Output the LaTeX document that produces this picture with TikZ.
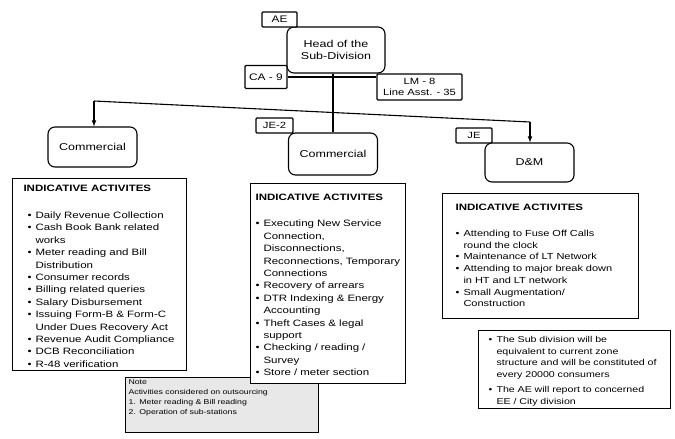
\documentclass[tikz,border=0pt]{standalone}
\usepackage{fontspec}
\setmainfont{Liberation Sans}[FakeStretch=1.25]
\usetikzlibrary{positioning}

% one bullet line of an activity list
\newcommand{\bitem}[1]{\par\hangindent=8pt\hangafter=1\noindent\makebox[8pt][l]{\textbullet}#1}

\begin{document}
\begin{tikzpicture}[x=1pt,y=-1pt,>=latex,line width=1.1pt,
  lbl/.style={draw,fill=white,inner sep=0pt,rounded corners=1pt,font=\fontsize{9.5}{10.5}\selectfont},
  unit/.style={draw,fill=white,inner sep=0pt,rounded corners=7pt,font=\fontsize{10}{11.5}\selectfont},
  actbox/.style={draw,fill=white,inner sep=0pt,anchor=north west},
  acthead/.style={inner sep=0pt,anchor=north west,font=\bfseries\fontsize{9.2}{11}\selectfont},
  acttext/.style={inner sep=0pt,anchor=north west,align=left,text width=#1},
  acttext/.default=160pt]
\useasboundingbox (0,0) rectangle (675,439);

% top of the sub-division
\node[unit,minimum width=98,minimum height=46,align=center] (head) at (336,50) {Head of the\\Sub-Division};
\node[lbl,minimum width=35,minimum height=15] (ae) at (279.5,19.5) {AE};
\node[lbl,minimum width=42,minimum height=23] (ca) at (266,77) {CA - 9};
\node[lbl,minimum width=85,minimum height=26,align=center,font=\fontsize{9}{10.5}\selectfont] (lm) at (419.5,87) {LM - 8\\Line Asst. - 35};
\draw (ca.east) -- (ca.east -| lm.west);

% the three wings
\node[unit,minimum width=89,minimum height=40] (comL) at (92.5,147) {Commercial};
\node[unit,minimum width=89,minimum height=42] (comM) at (333,154) {Commercial};
\node[unit,minimum width=89,minimum height=39] (dm) at (529.5,162.5) {D\&M};
\node[lbl,minimum width=37,minimum height=15,font=\fontsize{9}{10}\selectfont] (je2) at (274.5,125.5) {JE-2};
\node[lbl,minimum width=36,minimum height=15,font=\fontsize{9}{10}\selectfont] (je) at (474,135.5) {JE};

\coordinate (busL) at (94,101);
\coordinate (busR) at (530,122);
\draw (busL) -- (busR);
\draw[->] (busL) -- (busL |- comL.north);
\draw[->] (busR) -- (busR |- dm.north);
\draw (comM.north |- head.south) -- (comM.north);

% note on outsourcing (behind the middle list)
\node[actbox,fill=gray!18,minimum width=193,minimum height=55] (note) at (125,377) {};
\node[acttext=185pt,font=\fontsize{7}{10}\selectfont] (notetxt) at (128,379.5)
  {Note\\Activities considered on outsourcing\\1. Meter reading \& Bill reading\\2. Operation of sub-stations};

% indicative activities
\node[actbox,minimum width=174,minimum height=192] (actL) at (12,178) {};
\node[acthead] (hdL) at (23,184.7) {INDICATIVE ACTIVITES};
\node[acttext,font=\fontsize{9.2}{12.4}\selectfont] (itL) at (27,205.5) {%
  \bitem{Daily Revenue Collection}
  \bitem{Cash Book Bank related\newline works}
  \bitem{Meter reading and Bill\newline Distribution}
  \bitem{Consumer records}
  \bitem{Billing related queries}
  \bitem{Salary Disbursement}
  \bitem{Issuing Form-B \& Form-C\newline Under Dues Recovery Act}
  \bitem{Revenue Audit Compliance}
  \bitem{DCB Reconciliation}
  \bitem{R-48 verification}\par};

\node[actbox,minimum width=155,minimum height=200] (actM) at (250,183) {};
\node[acthead] (hdM) at (255,193.7) {INDICATIVE ACTIVITES};
\node[acttext=150pt,font=\fontsize{9.2}{12.4}\selectfont] (itM) at (255,214) {%
  \bitem{Executing New Service\newline Connection,\newline Disconnections,\newline Reconnections, Temporary\newline Connections}
  \bitem{Recovery of arrears}
  \bitem{DTR Indexing \& Energy\newline Accounting}
  \bitem{Theft Cases \& legal\newline support}
  \bitem{Checking / reading /\newline Survey}
  \bitem{Store / meter section}\par};

\node[actbox,minimum width=196,minimum height=125] (actR) at (442,193) {};
\node[acthead] (hdR) at (455,203.7) {INDICATIVE ACTIVITES};
\node[acttext=185pt,font=\fontsize{8.8}{11.7}\selectfont] (itR) at (455,224.3) {%
  \bitem{Attending to Fuse Off Calls\newline round the clock}
  \bitem{Maintenance of LT Network}
  \bitem{Attending to major break down\newline in HT and LT network}
  \bitem{Small Augmentation/\newline Construction}\par};

% remarks
\node[actbox,minimum width=192,minimum height=78] (remark) at (478,330) {};
\node[acttext=185pt,font=\fontsize{8.5}{11.5}\selectfont] (remtxt) at (488,330.8) {%
  \bitem{The Sub division will be\newline equivalent to current zone\newline structure and will be constituted of\newline every 20000 consumers}\par
  \vspace{4pt}
  \bitem{The AE will report to concerned\newline EE / City division}\par};
\end{tikzpicture}
\end{document}
